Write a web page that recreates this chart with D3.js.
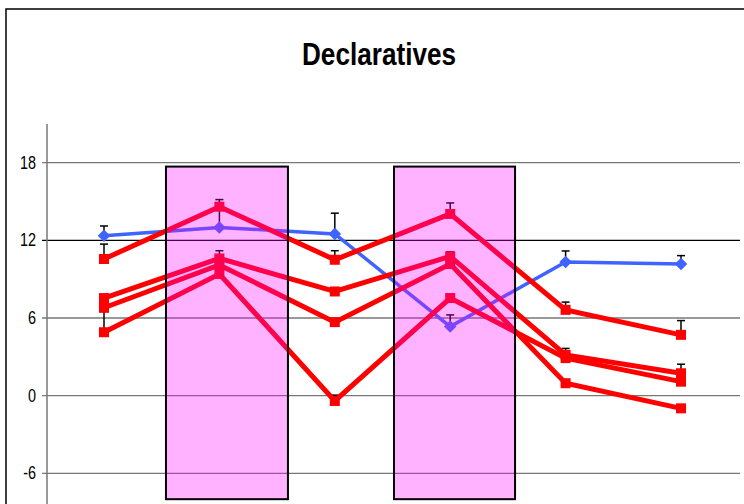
<!DOCTYPE html>
<html>
<head>
<meta charset="utf-8">
<script src="https://cdn.jsdelivr.net/npm/d3@7"></script>
<style>
  body { margin: 0; background: #fff; }
  svg { display: block; font-family: "Liberation Sans", Arial, sans-serif; }
</style>
</head>
<body>
<div id="chart"></div>
<script>
// Data
const categories = ["1", "2", "3", "4", "5", "6"];
const blueValues = [12.36, 13.0, 12.5, 5.34, 10.33, 10.17];
const blueErr = [0.75, 1.6, 1.6, 0.9, 0.85, 0.65];
const redA = [10.56, 14.6, 10.5, 14.04, 6.63, 4.7];
const redAErr = [1.15, 0.55, 0.7, 0.85, 0.6, 1.1];
const redB = [7.54, 10.6, 8.05, 10.76, 3.15, 1.73];
const redBErr = [0.2, 0.6, 0.2, 0.35, 0.5, 0.7];
const redC = [6.79, 10.1, 5.68, 10.17, 0.96, -0.98];
const redCErr = [0.2, 0.2, 0.2, 0.2, 0.2, 0.2];
const redD = [4.9, 9.4, -0.41, 7.54, 2.9, 1.08];
const redDErr = [1.6, 0.2, 0.45, 0.3, 0.2, 0.3];
const yTicks = [-6, 0, 6, 12, 18];
// shaded spans, in category-index units and y values
const highlights = [[0.537, 1.594], [2.513, 3.562]];
const highlightY = [-8.0, 17.7];

const width = 744, height = 504;

const svg = d3.select("#chart")
    .append("svg")
    .attr("width", width)
    .attr("height", height);

// outer frame
svg.append("rect")
    .attr("x", 6).attr("y", 9)
    .attr("width", 760).attr("height", 520)
    .attr("fill", "none")
    .attr("stroke", "#000")
    .attr("stroke-width", 1.5);

// title
svg.append("text")
    .text("Declaratives")
    .attr("x", 302).attr("y", 65)
    .attr("font-size", 31)
    .attr("font-weight", "bold")
    .attr("textLength", 154)
    .attr("lengthAdjust", "spacingAndGlyphs");

// scales
const x = d3.scalePoint().domain(categories).range([104, 681]);
const xi = d3.scaleLinear().domain([0, 5]).range([104, 681]);
const y = d3.scaleLinear().domain([-6, 18]).range([473.3, 162.7]);
const plotLeft = 47, plotRight = 740;

// gridlines
svg.append("g")
    .selectAll("line")
    .data(yTicks)
    .join("line")
    .attr("x1", plotLeft - 5).attr("x2", plotRight)
    .attr("y1", d => y(d)).attr("y2", d => y(d))
    .attr("stroke", d => d === 12 ? "#000" : "#777")
    .attr("stroke-width", 1.3);

// y axis line
svg.append("line")
    .attr("x1", plotLeft).attr("x2", plotLeft)
    .attr("y1", y(21)).attr("y2", height + 5)
    .attr("stroke", "#777")
    .attr("stroke-width", 1.5);

// tick labels
svg.append("g")
    .selectAll("text")
    .data(yTicks)
    .join("text")
    .text(d => d)
    .attr("text-anchor", "end")
    .attr("font-size", 18)
    .attr("transform", d => `translate(36,${y(d) + 6}) scale(0.8,1)`);

const redSeries = [
    { values: redA, err: redAErr },
    { values: redB, err: redBErr },
    { values: redC, err: redCErr },
    { values: redD, err: redDErr }
];

// error bars (plus direction)
const drawErr = (values, err) => {
    const g = svg.append("g").attr("stroke", "#000").attr("stroke-width", 1.5);
    values.forEach((v, i) => {
        const cx = x(categories[i]);
        g.append("line")
            .attr("x1", cx).attr("x2", cx)
            .attr("y1", y(v)).attr("y2", y(v + err[i]));
        g.append("line")
            .attr("x1", cx - 4).attr("x2", cx + 4)
            .attr("y1", y(v + err[i])).attr("y2", y(v + err[i]));
    });
};
drawErr(blueValues, blueErr);
redSeries.forEach(s => drawErr(s.values, s.err));

const line = d3.line()
    .x((d, i) => x(categories[i]))
    .y(d => y(d));

// blue series
svg.append("path")
    .datum(blueValues)
    .attr("d", line)
    .attr("fill", "none")
    .attr("stroke", "#3f63ff")
    .attr("stroke-width", 3.5);
svg.append("g")
    .selectAll("path")
    .data(blueValues)
    .join("path")
    .attr("d", d3.symbol(d3.symbolDiamond2, 100))
    .attr("transform", (d, i) => `translate(${x(categories[i])},${y(d)})`)
    .attr("fill", "#3f63ff");

// red series
redSeries.forEach(s => {
    svg.append("path")
        .datum(s.values)
        .attr("d", line)
        .attr("fill", "none")
        .attr("stroke", "#ff0000")
        .attr("stroke-width", 5)
        .attr("stroke-linejoin", "miter");
    svg.append("g")
        .selectAll("rect")
        .data(s.values)
        .join("rect")
        .attr("x", (d, i) => x(categories[i]) - 5)
        .attr("y", d => y(d) - 5)
        .attr("width", 10).attr("height", 10)
        .attr("fill", "#ff0000");
});

// shaded boxes on top
svg.append("g")
    .selectAll("rect")
    .data(highlights)
    .join("rect")
    .attr("x", d => xi(d[0]))
    .attr("y", y(highlightY[1]))
    .attr("width", d => xi(d[1]) - xi(d[0]))
    .attr("height", y(highlightY[0]) - y(highlightY[1]))
    .attr("fill", "rgba(255,0,255,0.3)")
    .attr("stroke", "#000")
    .attr("stroke-width", 2);
</script>
</body>
</html>
